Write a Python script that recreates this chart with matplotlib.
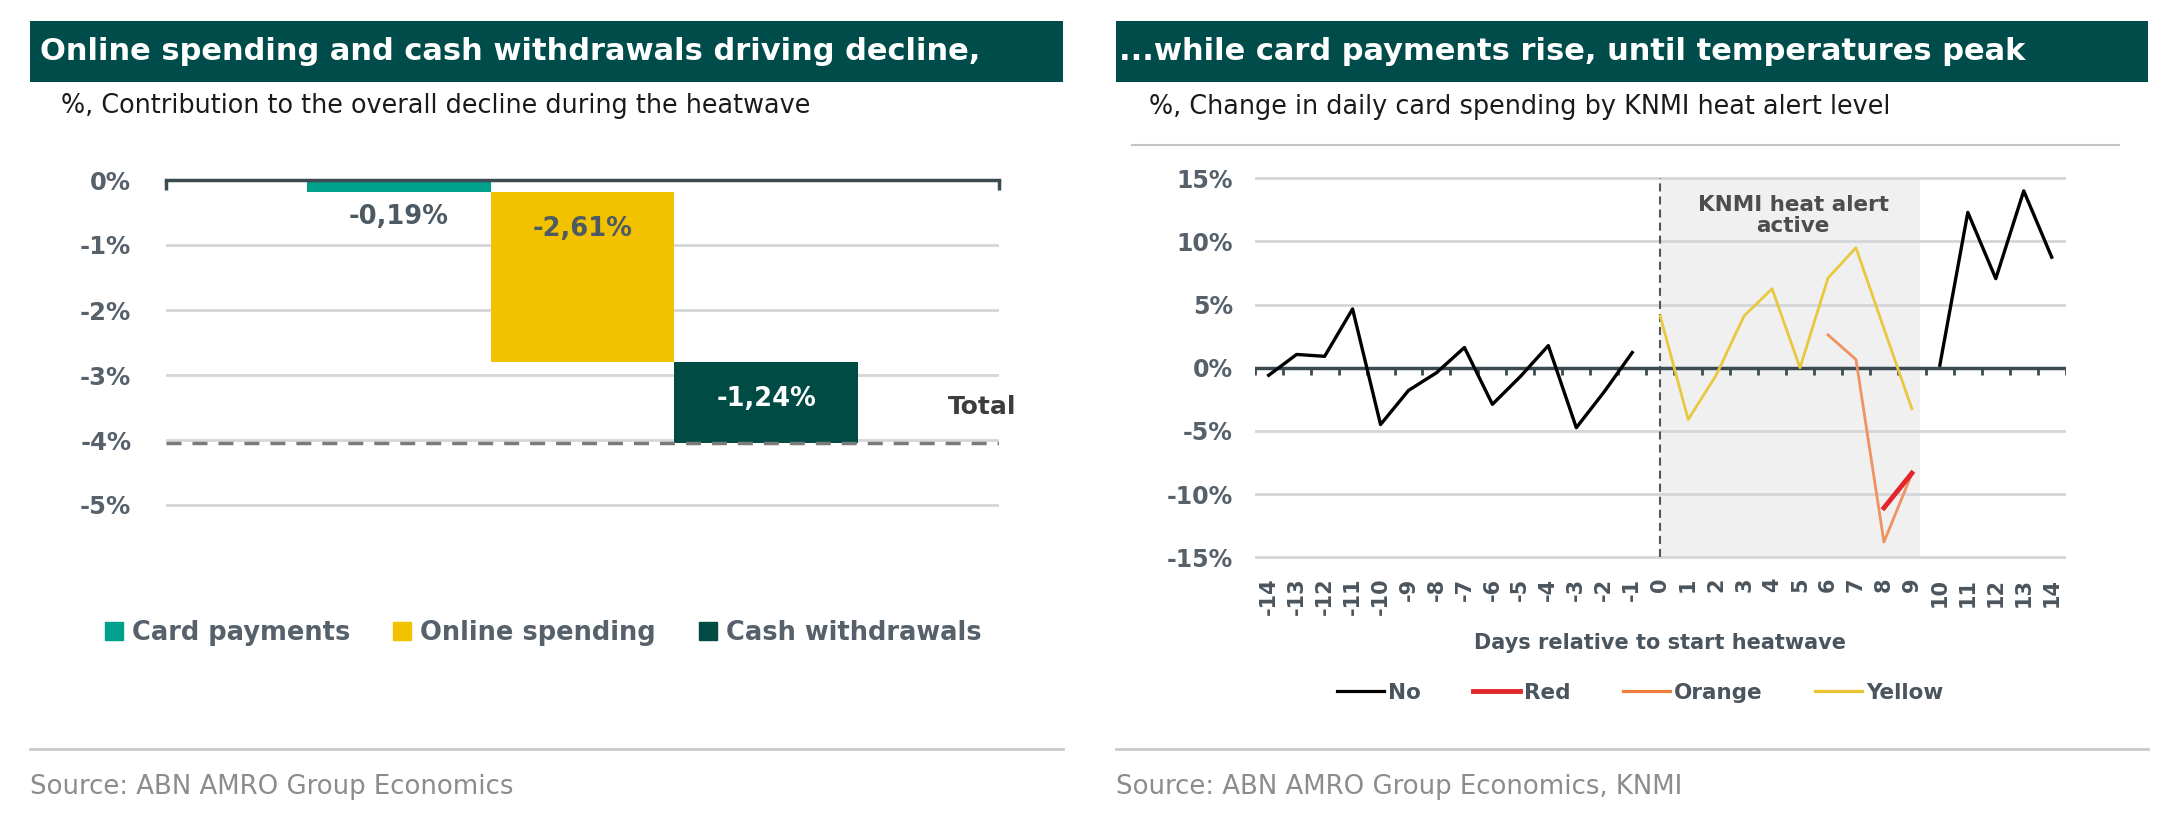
import numpy as np
import matplotlib
matplotlib.use("Agg")
import matplotlib.pyplot as plt
from matplotlib.patches import Patch, Rectangle
from matplotlib.lines import Line2D

W, H = 2170, 824

# --- left chart: contribution to the decline (waterfall) ---
components = ["Card payments", "Online spending", "Cash withdrawals"]
contributions = [-0.19, -2.61, -1.24]
contribution_labels = ["-0,19%", "-2,61%", "-1,24%"]
left_yticks = [0, -1, -2, -3, -4, -5]

# --- right chart: change in daily card spending by heat alert level ---
days = np.arange(-14, 15)
no_before = [-0.6, 1.05, 0.9, 4.65, -4.5, -1.8, -0.4, 1.6, -2.9, -0.7, 1.75, -4.75, -1.9, 1.2]   # days -14..-1
no_after = [0.2, 12.3, 7.05, 14.0, 8.75]                                                            # days 10..14
yellow = [4.1, -4.1, -0.6, 4.1, 6.25, 0.0, 7.1, 9.5, 3.1, -3.25]                                    # days 0..9
orange = [2.6, 0.65, -13.8, -8.4]                                                                   # days 6..9
red = [-11.1, -8.35]                                                                                # days 8..9
alert_start, alert_end = 0, 9.3
right_yticks = [15, 10, 5, 0, -5, -10, -15]

TITLE_BG = "#004c4a"
LABEL = "#56616b"
ZERO = "#3c4a52"
GRID = "#d4d6d9"
bar_colors = ["#00a08c", "#f2c200", "#004c45"]

plt.rcParams["lines.scale_dashes"] = False


def fx(px):
    return px / W


def fy(py):
    return 1 - py / H


fig = plt.figure(figsize=(W / 100, H / 100), dpi=100)

# headers, rules and sources
for x0, x1, tx, title in [(30, 1063, 40, "Online spending and cash withdrawals driving decline,"),
                          (1116, 2148, 1119, "...while card payments rise, until temperatures peak")]:
    fig.add_artist(Rectangle((fx(x0), fy(82)), (x1 - x0) / W, 61 / H,
                             transform=fig.transFigure, color=TITLE_BG, lw=0))
    fig.text(fx(tx), fy(52), title, color="white",
             fontsize=22, fontweight="bold", va="center", ha="left")
    fig.add_artist(Line2D([fx(x0), fx(x1)], [fy(749), fy(749)], transform=fig.transFigure,
                          color="#c9c9c9", lw=2))

fig.text(fx(61), fy(106), "%, Contribution to the overall decline during the heatwave",
         fontsize=18.4, color="#1a1a1a", va="center")
fig.text(fx(1149), fy(107), "%, Change in daily card spending by KNMI heat alert level",
         fontsize=18.4, color="#1a1a1a", va="center")
fig.add_artist(Line2D([fx(1132), fx(2119)], [fy(145), fy(145)], transform=fig.transFigure,
                      color="#c4c4c4", lw=1.5))
fig.text(fx(30), fy(787), "Source: ABN AMRO Group Economics", fontsize=18.7, color="#8c8c8c", va="center")
fig.text(fx(1116), fy(787), "Source: ABN AMRO Group Economics, KNMI", fontsize=18.7, color="#8c8c8c",
         va="center")

# ---------------- left chart ----------------
ppu = 65.0
top, bot = 180 - 0.05 * ppu, 180 + 5.05 * ppu
ax1 = fig.add_axes([fx(166), fy(bot), (999 - 166) / W, (bot - top) / H])
x = np.arange(len(components))
bottoms = np.concatenate([[0], np.cumsum(contributions)[:-1]])
total = float(np.sum(contributions))
ax1.bar(x, contributions, bottom=bottoms, width=1.0, color=bar_colors, zorder=3)
for i, (b, lab) in enumerate(zip(bottoms, contribution_labels)):
    c = "white" if i == len(components) - 1 else "#4d5a63"
    ax1.text(i, b - 0.57, lab, ha="center", va="center", fontsize=18.5, fontweight="bold", color=c, zorder=6)

ax1.set_xlim(-1.266, 3.266)
ax1.set_ylim(-5.05, 0.05)
ax1.set_yticks(left_yticks)
ax1.set_yticklabels([f"{v}%" for v in left_yticks])
ax1.set_xticks([])
ax1.tick_params(axis="y", length=0, pad=25, labelsize=17.5, labelcolor=LABEL)
for lab in ax1.get_yticklabels():
    lab.set_fontweight("bold")
ax1.grid(axis="y", color=GRID, lw=2)
ax1.set_axisbelow(True)
for s in ax1.spines.values():
    s.set_visible(False)
ax1.axhline(0, color=ZERO, lw=2.5, zorder=5, clip_on=False)
ax1.vlines(ax1.get_xlim(), 0, -0.15, color=ZERO, lw=2.5, zorder=5, clip_on=False)
ax1.axhline(total, color="#7a7a7a", lw=2.5, linestyle=(0, (10.8, 7.9)), zorder=4)
ax1.text(len(components) - 0.5 + 0.49, total + 0.55, "Total", ha="left", va="center",
         fontsize=18, fontweight="bold", color="#3c3c3c")

fig.legend(handles=[Patch(color=c, label=l) for c, l in zip(bar_colors, components)],
           loc="center", bbox_to_anchor=(fx(543), fy(633)), ncol=3, frameon=False,
           prop={"size": 18.5, "weight": "bold"}, labelcolor=LABEL,
           handlelength=0.7, handleheight=0.7, handletextpad=0.35, columnspacing=1.67)

# ---------------- right chart ----------------
ppu2 = 12.63
top2, bot2 = 367.7 - 15.3 * ppu2, 367.7 + 15.3 * ppu2
ax2 = fig.add_axes([fx(1254.7), fy(bot2), (2065.7 - 1254.7) / W, (bot2 - top2) / H])
ax2.set_xlim(-14.5, 14.5)
ax2.set_ylim(-15.3, 15.3)
ax2.fill_between([alert_start, alert_end], -15, 15, color="#f0f0f0", lw=0, zorder=0.2)
ax2.vlines(alert_start, -15, 15, color="#555555", lw=1.5, linestyle=(0, (5.8, 3.6)), zorder=2)
ax2.text((alert_start + alert_end) / 2 + 0.1, 12.05, "KNMI heat alert\nactive", ha="center", va="center",
         fontsize=15.5, fontweight="bold", color="#4d4d4d", linespacing=1.1, zorder=6)

c_no, c_red, c_orange, c_yellow = "#000000", "#e3262b", "#ee9260", "#e8c83f"
ax2.plot(days[:14], no_before, color=c_no, lw=2.4, zorder=4)
ax2.plot(days[24:], no_after, color=c_no, lw=2.4, zorder=4)
ax2.plot(days[14:24], yellow, color=c_yellow, lw=2.0, zorder=4)
ax2.plot(days[20:24], orange, color=c_orange, lw=2.0, zorder=4)
ax2.plot(days[22:24], red, color=c_red, lw=3.5, zorder=5)

ax2.set_yticks(right_yticks)
ax2.set_yticklabels([f"{v}%" for v in right_yticks])
ax2.set_xticks(days)
ax2.set_xticklabels([str(d) for d in days], rotation=90)
ax2.tick_params(axis="y", length=0, pad=15.6, labelsize=17, labelcolor=LABEL)
ax2.tick_params(axis="x", length=0, pad=12, labelsize=15, labelcolor="#4b555e")
for lab in ax2.get_yticklabels() + ax2.get_xticklabels():
    lab.set_fontweight("bold")
ax2.grid(axis="y", color=GRID, lw=2)
ax2.grid(axis="x", visible=False)
ax2.set_axisbelow(True)
for s in ax2.spines.values():
    s.set_visible(False)
ax2.axhline(0, color=ZERO, lw=2.5, zorder=3)
ax2.vlines(np.arange(days[0] - 0.5, days[-1] + 1, 1), 0, -0.55, color=ZERO, lw=2, zorder=3)

fig.text(fx(1660), fy(643), "Days relative to start heatwave", ha="center", va="center",
         fontsize=15, fontweight="bold", color="#4b555e")

legend_handles = [Line2D([], [], color=c_no, lw=2.3, label="No"),
                  Line2D([], [], color=c_red, lw=3.5, label="Red"),
                  Line2D([], [], color="#f07e3e", lw=2.3, label="Orange"),
                  Line2D([], [], color="#e9c230", lw=2.3, label="Yellow")]
fig.legend(handles=legend_handles, loc="center", bbox_to_anchor=(fx(1640), fy(693)), ncol=4,
           frameon=False, prop={"size": 15.5, "weight": "bold"}, labelcolor="#4b555e",
           handlelength=2.2, handletextpad=0.2, columnspacing=2.4)

fig.savefig("out.png", dpi=100, facecolor="white")
